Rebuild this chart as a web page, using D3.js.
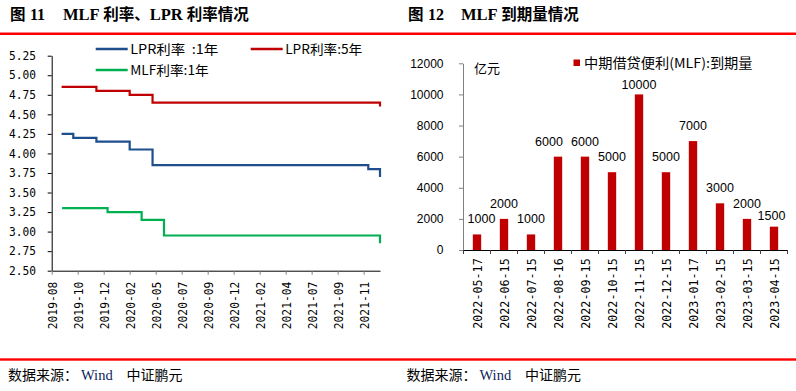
<!DOCTYPE html>
<html><head><meta charset="utf-8">
<script src="https://cdn.jsdelivr.net/npm/d3@7"></script>
<style>body{margin:0;background:#fff}svg{display:block}</style>
</head><body><svg id="c" width="796" height="391"></svg>
<script>
// ---------- Data: Figure 11 (rates) ----------
const rateXLabels = ["2019-08","2019-10","2019-12","2020-02","2020-05","2020-07","2020-09","2020-12","2021-02","2021-04","2021-07","2021-09","2021-11"];
const rateYTicks = [2.50,2.75,3.00,3.25,3.50,3.75,4.00,4.25,4.50,4.75,5.00,5.25];
const rateAxisEnd = 12.63; // category position of the last observation
// step change points: category position -> rate
const lpr1yPos = [0.38,0.83,1.72,3.00,3.88,12.18,12.63];
const lpr1yVal = [4.25,4.20,4.15,4.05,3.85,3.80,3.70];
const lpr5yPos = [0.38,1.72,3.00,3.88,12.63];
const lpr5yVal = [4.85,4.80,4.75,4.65,4.60];
const mlfPos   = [0.40,2.15,3.46,4.32,12.63];
const mlfVal   = [3.30,3.25,3.15,2.95,2.85];
const rateSeries = ["LPR利率  :1年","LPR利率:5年","MLF利率:1年"];

// ---------- Data: Figure 12 (MLF maturities) ----------
const mlfDates = ["2022-05-17","2022-06-15","2022-07-15","2022-08-16","2022-09-15","2022-10-15","2022-11-15","2022-12-15","2023-01-17","2023-02-15","2023-03-15","2023-04-15"];
const mlfAmounts = [1000,2000,1000,6000,6000,5000,10000,5000,7000,3000,2000,1500];
const amountTicks = [0,2000,4000,6000,8000,10000,12000];
const amountSeries = "中期借贷便利(MLF):到期量";

// ---------- Styles ----------
const CJK = "'Noto Sans CJK SC', sans-serif";
const MONO = "'DejaVu Sans Mono', monospace";
const SANS = "'Liberation Sans', Arial, sans-serif";
const SERIF = "'Liberation Serif', 'Times New Roman', serif";
const RED = "#C00000", BLUE = "#1F4E8C", GREEN = "#00B050";

const svg = d3.select("#c");

// header / footer red rules
svg.append("rect").attr("x",0).attr("y",32.5).attr("width",796).attr("height",2.5).attr("fill","#FF0000");
svg.append("rect").attr("x",0).attr("y",358.3).attr("width",796).attr("height",2.4).attr("fill","#FF0000");

function title(x0, num, rest) {
  const t = svg.append("text").attr("y",19.5).attr("font-weight","bold").attr("font-size",15.5).attr("fill","#000");
  t.append("tspan").attr("x",x0).attr("font-family",CJK).text("图");
  t.append("tspan").attr("x",x0+20).attr("font-family",SERIF).attr("font-size",16).text(num);
  const r = t.append("tspan").attr("x",x0+53);
  rest.forEach(([s,f]) => r.append("tspan").attr("font-family", f==="s"?SERIF:CJK).attr("font-size", f==="s"?16.5:15.5).text(s));
}
title(10,"11",[["MLF ","s"],["利率、","c"],["LPR ","s"],["利率情况","c"]]);
title(408,"12",[["MLF ","s"],["到期量情况","c"]]);

function footer(x0) {
  const t = svg.append("text").attr("y",379.5).attr("font-size",14);
  t.append("tspan").attr("x",x0).attr("font-family",CJK).attr("fill","#000").text("数据来源：");
  t.append("tspan").attr("x",x0+73).attr("font-family",SERIF).attr("fill","#0A1F5C").attr("font-size",14.5).text("Wind");
  t.append("tspan").attr("x",x0+118.5).attr("font-family",CJK).attr("fill","#000").text("中证鹏元");
}
footer(8); footer(406.5);

// ================= Figure 11 =================
const x1 = d3.scaleLinear().domain([0, rateAxisEnd]).range([51.7, 380]);
const y1 = d3.scaleLinear().domain([2.5, 5.25]).range([270.7, 55.7]);

const yAx1 = svg.append("g").attr("transform","translate(51.7,0)")
  .call(d3.axisLeft(y1).tickValues(rateYTicks).tickFormat(d3.format(".2f")).tickSize(4).tickSizeOuter(0).tickPadding(11.7));
yAx1.attr("font-family",MONO).attr("font-size",11.5);
yAx1.selectAll("text").attr("fill","#000").attr("textLength",27).attr("lengthAdjust","spacingAndGlyphs");
yAx1.selectAll("line,path").attr("stroke","#000");

const xAx1 = svg.append("g").attr("transform","translate(0,270.7)")
  .call(d3.axisBottom(x1).tickValues(d3.range(rateXLabels.length)).tickFormat(i => rateXLabels[i]).tickSize(4).tickSizeOuter(0));
xAx1.attr("font-family",MONO).attr("font-size",12.5);
xAx1.select(".domain").attr("stroke","#000");
xAx1.selectAll(".tick line").attr("stroke","#808080");
xAx1.selectAll("text").attr("fill","#000").attr("transform","rotate(-90)")
  .attr("text-anchor","end").attr("x",-11).attr("y",0).attr("dy","0.42em")
  .attr("textLength",47.5).attr("lengthAdjust","spacingAndGlyphs");

const line1 = d3.line().x(d => x1(d[0])).y(d => y1(d[1])).curve(d3.curveStepAfter);
[[lpr5yPos,lpr5yVal,RED],[lpr1yPos,lpr1yVal,BLUE],[mlfPos,mlfVal,GREEN]].forEach(([p,v,c]) => {
  svg.append("path").datum(d3.zip(p,v)).attr("d",line1).attr("fill","none")
    .attr("stroke",c).attr("stroke-width",2.2);
});

// legend
const leg1 = [[95.7,49,BLUE,rateSeries[0],88],[250.7,49,RED,rateSeries[1],77],[95.7,70,GREEN,rateSeries[2],78.5]];
leg1.forEach(([lx,ly,c,s,w]) => {
  svg.append("line").attr("x1",lx).attr("x2",lx+32).attr("y1",ly).attr("y2",ly).attr("stroke",c).attr("stroke-width",2.4);
  svg.append("text").attr("x",lx+34.5).attr("y",ly+4.6).attr("font-family",CJK).attr("font-size",13)
    .attr("fill","#000").style("white-space","pre").attr("textLength",w).attr("lengthAdjust","spacingAndGlyphs").text(s);
});

// ================= Figure 12 =================
const x2 = d3.scaleBand().domain(mlfDates).range([463.5, 787.5]).paddingInner(0.69).paddingOuter(0.345);
const y2 = d3.scaleLinear().domain([0, 12000]).range([250, 63.3]);

const yAx2 = svg.append("g").attr("transform","translate(463,0)")
  .call(d3.axisLeft(y2).tickValues(amountTicks).tickFormat(d3.format("d")).tickSize(4).tickSizeOuter(0).tickPadding(15.5));
yAx2.attr("font-family",SANS).attr("font-size",12);
yAx2.selectAll("text").attr("fill","#000");
yAx2.selectAll("line,path").attr("stroke","#808080");

svg.append("g").selectAll("rect").data(mlfDates).join("rect")
  .attr("x", d => x2(d)).attr("width", x2.bandwidth())
  .attr("y", (d,i) => y2(mlfAmounts[i])).attr("height", (d,i) => y2(0) - y2(mlfAmounts[i]))
  .attr("fill", RED);

const xAx2 = svg.append("g").attr("transform","translate(0,250)")
  .call(d3.axisBottom(x2).tickSize(0).tickSizeOuter(0));
xAx2.attr("font-family",MONO).attr("font-size",13);
xAx2.select(".domain").attr("stroke","#000");
xAx2.selectAll("text").attr("fill","#000").attr("transform","rotate(-90)")
  .attr("text-anchor","end").attr("x",-8.3).attr("y",0).attr("dy","0.38em")
  .attr("textLength",70.5).attr("lengthAdjust","spacingAndGlyphs");
// category boundary ticks
const step = x2.step();
const bounds = mlfDates.map(d => x2(d) - (step - x2.bandwidth())/2).concat([x2(mlfDates[mlfDates.length-1]) + x2.bandwidth() + (step - x2.bandwidth())/2]);
xAx2.selectAll(".btick").data(bounds).join("line").attr("class","btick")
  .attr("x1", d => d).attr("x2", d => d).attr("y1",0).attr("y2",4).attr("stroke","#404040");

// value labels (manual nudges as in the source chart)
const labelLift = mlfAmounts.map((v,i) => i === 6 ? 5 : (i === 11 ? 6.5 : 11));
const labelShift = mlfAmounts.map((v,i) => i === 0 ? 4.5 : (i === 3 ? -9 : (i === 11 ? -2.5 : 0)));
svg.append("g").selectAll("text").data(mlfAmounts).join("text")
  .attr("x", (d,i) => x2(mlfDates[i]) + x2.bandwidth()/2 + labelShift[i])
  .attr("y", (d,i) => y2(d) - labelLift[i])
  .attr("text-anchor","middle").attr("font-family",SANS).attr("font-size",12.5).attr("fill","#000")
  .text(d => d);

// unit + legend
svg.append("text").attr("x",474).attr("y",73).attr("font-family",CJK).attr("font-size",13).attr("fill","#000").text("亿元");
svg.append("rect").attr("x",573.5).attr("y",59.5).attr("width",6.5).attr("height",6.5).attr("fill",RED);
svg.append("text").attr("x",584).attr("y",67.5).attr("font-family",CJK).attr("font-size",13.5).attr("fill","#000")
  .attr("textLength",168.5).attr("lengthAdjust","spacingAndGlyphs").text(amountSeries);
</script></body></html>
